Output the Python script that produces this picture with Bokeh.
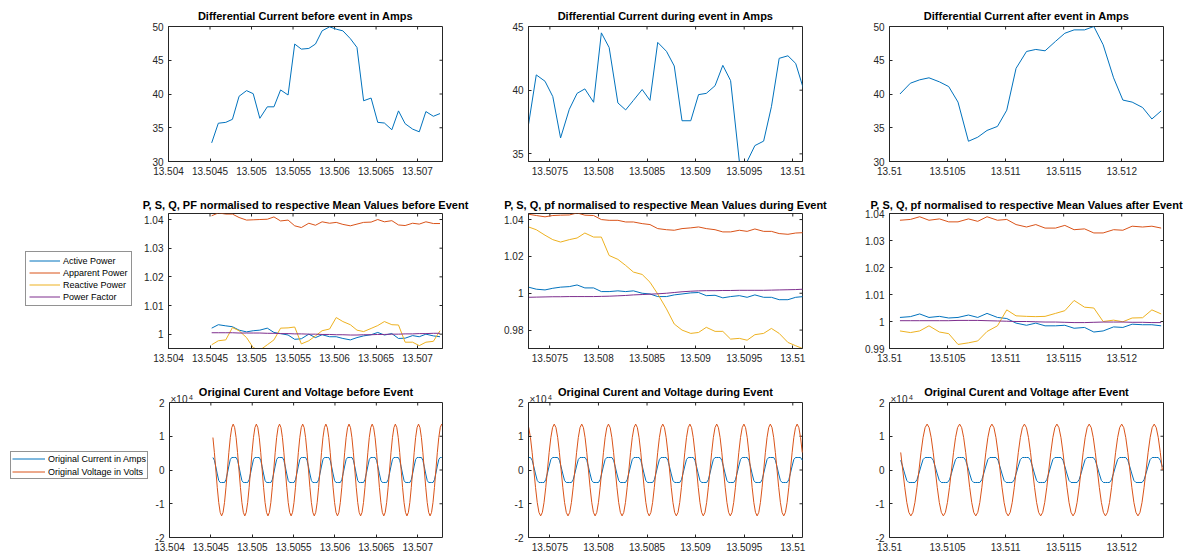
import numpy as np
from bokeh.plotting import figure
from bokeh.layouts import column, row
from bokeh.models import (FixedTicker, CustomJSTickFormatter, Range1d,
                          Legend, LegendItem, Label)
from bokeh.embed import file_html
from bokeh.resources import INLINE

# ---------------- data ----------------
T1 = [13.50452, 13.50460, 13.50469, 13.50477, 13.50485, 13.50494, 13.50502, 13.50510,
      13.50519, 13.50527, 13.50535, 13.50544, 13.50552, 13.50560, 13.50569, 13.50577,
      13.50585, 13.50594, 13.50602, 13.50610, 13.50619, 13.50627, 13.50635, 13.50644,
      13.50652, 13.50660, 13.50669, 13.50677, 13.50685, 13.50694, 13.50702, 13.50710,
      13.50719, 13.50727]
T2 = [13.50728, 13.50736, 13.50745, 13.50753, 13.50761, 13.50770, 13.50778, 13.50786,
      13.50795, 13.50803, 13.50811, 13.50820, 13.50828, 13.50836, 13.50845, 13.50853,
      13.50861, 13.50870, 13.50878, 13.50886, 13.50895, 13.50903, 13.50911, 13.50920,
      13.50928, 13.50936, 13.50945, 13.50953, 13.50961, 13.50970, 13.50978, 13.50986,
      13.50995, 13.51003, 13.51011]
T3 = [13.51009, 13.51018, 13.51026, 13.51034, 13.51043, 13.51051, 13.51059, 13.51068,
      13.51076, 13.51084, 13.51093, 13.51101, 13.51109, 13.51118, 13.51126, 13.51134,
      13.51143, 13.51151, 13.51159, 13.51168, 13.51176, 13.51184, 13.51193, 13.51201,
      13.51209, 13.51218, 13.51226, 13.51234]

DIFF_BEFORE = [32.76, 35.67, 35.8, 36.25, 39.66, 40.5, 40.05, 36.4, 38.1, 38.1, 40.6, 39.85,
               47.4, 46.65, 46.75, 47.4, 49.36, 49.95, 49.6, 49.36, 48.2, 46.9, 39.0, 39.4,
               35.8, 35.7, 34.7, 37.5, 35.6, 34.8, 34.4, 37.4, 36.7, 37.1]
DIFF_DURING = [37.3, 41.2, 40.7, 39.5, 36.25, 38.5, 39.75, 40.1, 39.05, 44.5, 43.35, 39.0,
               38.45, 39.2, 40.05, 39.2, 43.75, 43.05, 41.9, 37.6, 37.6, 39.65, 39.75, 40.35,
               41.95, 40.75, 34.4, 34.4, 35.65, 36.0, 38.7, 42.5, 42.7, 42.1, 40.1]
DIFF_AFTER = [40.0, 41.6, 42.1, 42.4, 41.8, 41.1, 38.8, 33.0, 33.6, 34.6, 35.2, 37.6,
              43.8, 46.3, 46.6, 46.4, 47.8, 49.0, 49.5, 49.5, 50.0, 47.3, 42.4, 39.1, 38.8,
              38.0, 36.3, 37.5]

P_BEFORE = [1.0021, 1.0033, 1.0029, 1.0026, 1.0014, 1.0008, 1.0012, 1.0014, 1.0021, 1.0006,
            1.0002, 0.9997, 0.9982, 0.9984, 1.0000, 0.9988, 0.9998, 0.9991, 0.9991, 0.9985,
            0.9980, 0.9988, 0.9994, 0.9998, 1.0006, 0.9997, 1.0002, 0.9985, 0.9986, 0.9995,
            0.9991, 1.0000, 0.9994, 0.9991]
S_BEFORE = [1.0413, 1.0423, 1.0419, 1.0419, 1.0407, 1.0398, 1.0399, 1.0400, 1.0401, 1.0409,
            1.0395, 1.0398, 1.0378, 1.0372, 1.0387, 1.0380, 1.0392, 1.0387, 1.0390, 1.0383,
            1.0378, 1.0384, 1.0390, 1.0391, 1.0400, 1.0392, 1.0396, 1.0381, 1.0379, 1.0387,
            1.0384, 1.0392, 1.0386, 1.0386]
Q_BEFORE = [0.9963, 0.9977, 0.9980, 1.0023, 1.0012, 0.9988, 0.9953, 0.9944, 0.9963, 0.9980,
            1.0021, 1.0022, 1.0025, 0.9966, 0.9977, 0.9994, 1.0012, 1.0018, 1.0058, 1.0044,
            1.0033, 1.0014, 1.0009, 1.0020, 1.0030, 1.0044, 1.0033, 1.0032, 0.9972, 0.9972,
            0.9960, 0.9972, 0.9975, 1.0012]
PF_BEFORE = [1.0005, 1.0005, 1.0005, 1.0005, 1.0004, 1.0004, 1.0004, 1.0004, 1.0003, 1.0003,
             1.0002, 1.0002, 1.0001, 1.0001, 1.0000, 1.0000, 0.9999, 0.9999, 0.9998, 0.9998,
             0.9997, 0.9997, 0.9998, 0.9998, 0.9999, 0.9999, 1.0000, 1.0000, 1.0001, 1.0001,
             1.0002, 1.0002, 1.0003, 1.0003]

P_DURING = [1.0033, 1.0022, 1.0018, 1.0027, 1.0033, 1.0036, 1.0045, 1.0029, 1.0029, 1.0009,
            1.0009, 1.0013, 1.0009, 1.0013, 1.0000, 0.9996, 0.9982, 0.9982, 0.9991, 0.9996,
            1.0002, 1.0004, 0.9987, 0.9989, 0.9975, 0.9982, 0.9987, 0.9978, 0.9991, 0.9978,
            0.9978, 0.9965, 0.9965, 0.9978, 0.9982]
S_DURING = [1.0429, 1.0422, 1.0415, 1.0422, 1.0424, 1.0425, 1.0436, 1.0424, 1.0422, 1.0400,
            1.0396, 1.0396, 1.0387, 1.0387, 1.0378, 1.0373, 1.0351, 1.0345, 1.0342, 1.0351,
            1.0355, 1.0360, 1.0351, 1.0345, 1.0333, 1.0333, 1.0342, 1.0336, 1.0349, 1.0336,
            1.0336, 1.0324, 1.0320, 1.0327, 1.0329]
Q_DURING = [1.0360, 1.0345, 1.0315, 1.0291, 1.0278, 1.0291, 1.0300, 1.0327, 1.0305, 1.0305,
            1.0205, 1.0184, 1.0151, 1.0115, 1.0102, 1.0060, 0.9996, 0.9915, 0.9833, 0.9800,
            0.9782, 0.9787, 0.9815, 0.9793, 0.9793, 0.9751, 0.9755, 0.9745, 0.9775, 0.9782,
            0.9809, 0.9782, 0.9733, 0.9715, 0.9698]
PF_DURING = [0.9978, 0.9979, 0.9980, 0.9981, 0.9981, 0.9982, 0.9982, 0.9982, 0.9982, 0.9983,
             0.9984, 0.9986, 0.9988, 0.9991, 0.9993, 0.9995, 0.9997, 1.0000, 1.0004, 1.0008,
             1.0011, 1.0013, 1.0014, 1.0014, 1.0015, 1.0015, 1.0016, 1.0016, 1.0016, 1.0016,
             1.0017, 1.0018, 1.0019, 1.0020, 1.0022]

P_AFTER = [1.0015, 1.0018, 1.0028, 1.0015, 1.0019, 1.0013, 1.0015, 1.0024, 1.0015, 1.0030,
           1.0015, 1.0011, 0.9994, 0.9986, 0.9994, 0.9984, 0.9984, 0.9986, 0.9975, 0.9978,
           0.9961, 0.9965, 0.9980, 0.9978, 0.9990, 0.9988, 0.9988, 0.9984]
S_AFTER = [1.0375, 1.0378, 1.0388, 1.0375, 1.0380, 1.0369, 1.0369, 1.0380, 1.0371, 1.0388,
           1.0375, 1.0378, 1.0359, 1.0350, 1.0359, 1.0346, 1.0346, 1.0356, 1.0340, 1.0343,
           1.0328, 1.0328, 1.0340, 1.0338, 1.0353, 1.0350, 1.0353, 1.0346]
Q_AFTER = [0.9965, 0.9959, 0.9965, 0.9984, 0.9961, 0.9955, 0.9915, 0.9921, 0.9928, 0.9963,
           0.9984, 1.0043, 1.0021, 1.0019, 1.0018, 1.0019, 1.0030, 1.0040, 1.0078, 1.0053,
           1.0050, 1.0000, 1.0005, 0.9999, 1.0013, 1.0014, 1.0043, 1.0028]
PF_AFTER = [1.0003, 1.0003, 1.0003, 1.0003, 1.0003, 1.0003, 1.0004, 1.0004, 1.0004, 1.0003,
            1.0002, 1.0001, 1.0000, 1.0000, 0.9999, 0.9998, 0.9998, 0.9997, 0.9996, 0.9996,
            0.9997, 0.9998, 0.9998, 0.9998, 0.9997, 0.9997, 0.9996, 0.9996]

# original waveforms: one cycle (starting at a voltage peak), units of 1e4
VOLT_CYCLE = [1.36, 1.256, 0.962, 0.52, 0.0, -0.52, -0.962, -1.256,
              -1.36, -1.256, -0.962, -0.52, 0.0, 0.52, 0.962, 1.256]
CURR_CYCLE = [0.37, 0.37, 0.37, 0.29, 0.094, -0.117, -0.31, -0.37,
              -0.37, -0.37, -0.37, -0.29, -0.094, 0.117, 0.31, 0.37]
# times of the voltage peaks in each window
PEAKS_BEFORE = [13.50421, 13.50449, 13.50477, 13.50505, 13.50533, 13.50561, 13.50589,
                13.50617, 13.50645, 13.50673, 13.50701, 13.50729, 13.50757]
PEAKS_DURING = [13.506985, 13.507265, 13.507545, 13.507828, 13.508103, 13.508383, 13.508662,
                13.508941, 13.509217, 13.509497, 13.509769, 13.510045, 13.510325]
PEAKS_AFTER = [13.510044, 13.510324, 13.510604, 13.510882, 13.511162, 13.511442, 13.51172,
               13.512, 13.51228, 13.51256]
WAVE_SPAN_BEFORE = (13.50452, 13.5073)
WAVE_SPAN_DURING = (13.50720, 13.5101)
WAVE_SPAN_AFTER = (13.51009, 13.51236)

XTICKS_BEFORE = [13.504, 13.5045, 13.505, 13.5055, 13.506, 13.5065, 13.507]
XTICKS_DURING = [13.5075, 13.508, 13.5085, 13.509, 13.5095, 13.51]
XTICKS_AFTER = [13.51, 13.5105, 13.511, 13.5115, 13.512]
YTICKS_DIFF_WIDE = [30, 35, 40, 45, 50]
YTICKS_DIFF_DURING = [35, 40, 45]
YTICKS_PQ_BEFORE = [1.0, 1.01, 1.02, 1.03, 1.04]
YTICKS_PQ_DURING = [0.98, 1.0, 1.02, 1.04]
YTICKS_PQ_AFTER = [0.99, 1.0, 1.01, 1.02, 1.03, 1.04]
YTICKS_WAVE = [-20000, -10000, 0, 10000, 20000]

LEGEND_PQ = ["Active Power", "Apparent Power", "Reactive Power", "Power Factor"]
LEGEND_WAVE = ["Original Current in Amps", "Original Voltage in Volts"]
EXPONENT = ("\u00d710", "4")

TITLES = [
    ["Differential Current before event in Amps", "Differential Current during event in Amps",
     "Differential Current after event in Amps"],
    ["P, S, Q, PF normalised to respective Mean Values before Event",
     "P, S, Q, pf normalised to respective Mean Values during Event",
     "P, S, Q, pf normalised to respective Mean Values after Event"],
    ["Original Curent and Voltage before Event", "Original Curent and Voltage during Event",
     "Original Curent and Voltage after Event"],
]

# ---------------- style ----------------
FONT = "Liberation Sans"
TXT = "#262626"
BLUE, ORANGE, YELLOW, PURPLE = "#0072BD", "#D95319", "#EDB120", "#7E2F8E"

XFMT_CODE = "return String(parseFloat(tick.toFixed(5)));"
WFMT_CODE = "return String(Math.round(tick/10000));"

XR = [(13.504, 13.5073), (13.50728, 13.5101), (13.51, 13.51236)]
XT = [XTICKS_BEFORE, XTICKS_DURING, XTICKS_AFTER]
TT = [T1, T2, T3]


def style_axis(ax, ticks, code):
    ax.ticker = FixedTicker(ticks=ticks, minor_ticks=[])
    ax.formatter = CustomJSTickFormatter(code=code)
    ax.major_tick_in = 3
    ax.major_tick_out = 0
    ax.minor_tick_in = 0
    ax.minor_tick_out = 0
    ax.axis_line_color = TXT
    ax.major_tick_line_color = TXT
    ax.major_label_text_color = TXT
    ax.major_label_text_font = FONT
    ax.major_label_text_font_size = "10px"
    ax.major_label_standoff = 5


def base_fig(width, height, xr, yr, l, r, t, b, title=None):
    kw = {} if title else {"title": None}
    p = figure(width=width, height=height, x_range=Range1d(*xr), y_range=Range1d(*yr),
               output_backend="svg", toolbar_location=None,
               min_border_left=l, min_border_right=r, min_border_top=t, min_border_bottom=b, **kw)
    p.grid.visible = False
    p.background_fill_color = "white"
    p.border_fill_color = "white"
    return p


def panel(width, height, borders, xr, yr, xticks, yticks, title, standoff):
    l, rt, t, b = borders
    p = base_fig(width, height, xr, yr, l, rt, t, b, title)
    p.outline_line_color = TXT
    p.title.text = title
    p.title.align = "center"
    p.title.text_font = FONT
    p.title.text_font_size = "11px"
    p.title.text_font_style = "bold"
    p.title.text_color = "black"
    p.title.standoff = standoff
    style_axis(p.xaxis[0], xticks, XFMT_CODE)
    style_axis(p.yaxis[0], yticks, XFMT_CODE)
    # mirrored inward ticks on the top and right edges of the box
    xt = [v for v in xticks if xr[0] < v < xr[1]]
    p.scatter(xt, [yr[1]] * len(xt), marker="dash", size=6, angle=np.pi / 2,
              line_color=TXT, line_width=1)
    yt = [v for v in yticks if yr[0] < v < yr[1]]
    p.scatter([xr[1]] * len(yt), yt, marker="dash", size=6, line_color=TXT, line_width=1)
    return p


def wave_panel(c, width, l, rt, height=178, top_px=27, bottom=16):
    # the frame reaches the top of the figure so that the title and the axis exponent
    # can be drawn inside it; the visible box is drawn explicitly
    xr0, xr1 = XR[c]
    ext = 3
    frame_w = width - l - (rt - ext)
    x_end = xr1 + ext * (xr1 - xr0) / (frame_w - ext)
    box_h = height - top_px - bottom
    y_top = 20000 + top_px * 40000 / box_h
    p = base_fig(width, height, (xr0, x_end), (-20000, y_top), l, rt - ext, 0, bottom)
    p.outline_line_color = None
    style_axis(p.xaxis[0], XT[c], XFMT_CODE)
    p.xaxis[0].bounds = (xr0, xr1)
    style_axis(p.yaxis[0], YTICKS_WAVE, WFMT_CODE)
    p.yaxis[0].bounds = (-20000, 20000)
    p.quad(left=[xr0], right=[xr1], bottom=[-20000], top=[20000], fill_color=None,
           line_color=TXT, line_width=1)
    xt = [v for v in XT[c] if xr0 < v < xr1]
    p.ray(x=xt, y=[20000] * len(xt), length=3, length_units="screen", angle=-np.pi / 2,
          line_color=TXT, line_width=1)
    yt = [v for v in YTICKS_WAVE if -20000 < v < 20000]
    p.ray(x=[xr1] * len(yt), y=yt, length=3, length_units="screen", angle=np.pi,
          line_color=TXT, line_width=1)
    p.add_layout(Label(x=(xr0 + xr1) / 2, y=20000, y_offset=10.2, text=TITLES[2][c],
                       text_font=FONT, text_font_size="11px", text_font_style="bold",
                       text_color="black", text_align="center", text_baseline="middle"))
    p.add_layout(Label(x=xr0, y=20000, x_offset=1, y_offset=2.6, text=EXPONENT[0],
                       text_font=FONT, text_font_size="10px", text_color=TXT,
                       text_align="left", text_baseline="alphabetic"))
    p.add_layout(Label(x=xr0, y=20000, x_offset=19.5, y_offset=5.5, text=EXPONENT[1],
                       text_font=FONT, text_font_size="7px", text_color=TXT,
                       text_align="left", text_baseline="alphabetic"))
    return p


def legend_fig(width, height, labels, series, colors, loc, padding, spacing, glyph_w):
    # the series are added here only to feed the legend swatches; their x values lie
    # far outside this figure's (0, 1) range, so nothing of them is drawn
    f = base_fig(width, height, (0, 1), (0, 1), 0, 0, 0, 0)
    f.xaxis.visible = False
    f.yaxis.visible = False
    f.outline_line_color = None
    rs = [f.line(xs, ys, line_color=c, line_width=1) for (xs, ys), c in zip(series, colors)]
    leg = Legend(items=[LegendItem(label=lab, renderers=[r]) for lab, r in zip(labels, rs)],
                 location=loc)
    leg.label_text_font = FONT
    leg.label_text_font_size = "9px"
    leg.label_text_color = "black"
    leg.glyph_width = glyph_w
    leg.glyph_height = 11
    leg.label_height = 11
    leg.label_standoff = 3
    leg.spacing = spacing
    leg.padding = padding
    leg.margin = 0
    leg.border_line_color = TXT
    leg.border_line_width = 1
    leg.background_fill_alpha = 1
    f.add_layout(leg)
    return f


def tile(peaks, cycle, span):
    xs, ys = [], []
    n = len(cycle)
    for a, b in zip(peaks[:-1], peaks[1:]):
        for j, v in enumerate(cycle):
            t = a + (b - a) * j / n
            if span[0] <= t <= span[1]:
                xs.append(t)
                ys.append(v * 1e4)
    return xs, ys


# ---------------- row 1 ----------------
diff = [DIFF_BEFORE, DIFF_DURING, DIFF_AFTER]
yr1 = [(30, 50), (34.4, 45), (30, 50)]
yt1 = [YTICKS_DIFF_WIDE, YTICKS_DIFF_DURING, YTICKS_DIFF_WIDE]
geo1 = [(485, (168, 43, 26, 24)), (360, (43, 43, 26, 24)), (350, (44, 32, 26, 24))]
row1 = []
for c in range(3):
    w, bd = geo1[c]
    p = panel(w, 185, bd, XR[c], yr1[c], XT[c], yt1[c], TITLES[0][c], 10)
    p.line(TT[c], diff[c], line_color=BLUE, line_width=1)
    row1.append(p)

# ---------------- row 2 ----------------
pq = [(P_BEFORE, S_BEFORE, Q_BEFORE, PF_BEFORE), (P_DURING, S_DURING, Q_DURING, PF_DURING),
      (P_AFTER, S_AFTER, Q_AFTER, PF_AFTER)]
PQ_COLORS = [BLUE, ORANGE, YELLOW, PURPLE]
yr2 = [(0.995, 1.0421), (0.97, 1.0433), (0.99, 1.04)]
yt2 = [YTICKS_PQ_BEFORE, YTICKS_PQ_DURING, YTICKS_PQ_AFTER]
geo2 = [(350, (33, 43, 28, 27)), (360, (43, 43, 28, 27)), (350, (44, 32, 28, 27))]
row2 = [legend_fig(135, 190, LEGEND_PQ, [(T1, s) for s in pq[0]], PQ_COLORS,
                   (25, 42), 3, 1, 31)]
for c in range(3):
    w, bd = geo2[c]
    p = panel(w, 190, bd, XR[c], yr2[c], XT[c], yt2[c], TITLES[1][c], 5)
    for ser, col in zip(pq[c], PQ_COLORS):
        p.line(TT[c], ser, line_color=col, line_width=1)
    row2.append(p)

# ---------------- row 3 ----------------
peaks = [PEAKS_BEFORE, PEAKS_DURING, PEAKS_AFTER]
spans = [WAVE_SPAN_BEFORE, WAVE_SPAN_DURING, WAVE_SPAN_AFTER]
geo3 = [(333, 16, 43), (360, 43, 43), (350, 44, 32)]
waves = [(tile(peaks[c], CURR_CYCLE, spans[c]), tile(peaks[c], VOLT_CYCLE, spans[c]))
         for c in range(3)]
row3 = [legend_fig(152, 178, LEGEND_WAVE, list(waves[0]), [BLUE, ORANGE], (10, 58), 1, 2, 33)]
for c in range(3):
    w, l, rt = geo3[c]
    p = wave_panel(c, w, l, rt)
    (xi, yi), (xv, yv) = waves[c]
    p.line(xi, yi, line_color=BLUE, line_width=1)
    p.line(xv, yv, line_color=ORANGE, line_width=1)
    row3.append(p)

layout = column(row(*row1, spacing=0), row(*row2, spacing=0), row(*row3, spacing=0), spacing=0)
open("out.html", "w").write(file_html(layout, INLINE))
